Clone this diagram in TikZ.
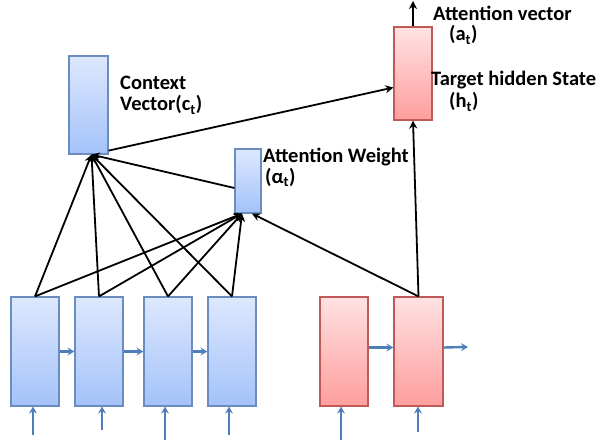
\documentclass[tikz,border=0pt]{standalone}
\usepackage{fontspec}
\setmainfont{Carlito}
\usetikzlibrary{arrows.meta}
\definecolor{bluetop}{HTML}{DDE8FD}
\definecolor{bluebot}{HTML}{A4C2FA}
\definecolor{blueedge}{HTML}{6A8CBE}
\definecolor{redtop}{HTML}{FFE2E2}
\definecolor{redbot}{HTML}{FF9E9E}
\definecolor{rededge}{HTML}{BF5A58}
\definecolor{arrowblue}{HTML}{4F7FBA}
\begin{document}
\begin{tikzpicture}[x=1pt,y=-1pt,
 bbox/.style={draw=blueedge, line width=1.2pt, top color=bluetop, bottom color=bluebot, inner sep=0pt},
 rbox/.style={draw=rededge, line width=1.2pt, top color=redtop, bottom color=redbot, inner sep=0pt},
 blk/.style={draw=black, line width=1.8pt, -{Stealth[length=8pt,width=8pt,inset=2.5pt]}},
 bla/.style={draw=arrowblue, line width=2.4pt, -{Stealth[length=7pt,width=8pt,inset=2.5pt]}},
 lbl/.style={font=\bfseries\fontsize{20.5}{23}\selectfont, anchor=west, inner sep=0pt}]
\useasboundingbox (0,0) rectangle (602,444);
% encoder
\node[bbox, minimum width=48pt, minimum height=109pt] (e1) at (35,351.5) {};
\node[bbox, minimum width=48pt, minimum height=109pt] (e2) at (99,351.5) {};
\node[bbox, minimum width=48pt, minimum height=109pt] (e3) at (168,351.5) {};
\node[bbox, minimum width=48pt, minimum height=109pt] (e4) at (232,351.5) {};
% decoder
\node[rbox, minimum width=48pt, minimum height=109pt] (d1) at (344,351.5) {};
\node[rbox, minimum width=49pt, minimum height=109pt] (d2) at (418.5,351.5) {};
% target, context, attention
\node[rbox, minimum width=38pt, minimum height=93pt] (t) at (413,73.5) {};
\node[bbox, minimum width=39pt, minimum height=98pt] (c) at (88.5,105) {};
\node[bbox, minimum width=26pt, minimum height=64pt] (a) at (248,181) {};
% free ends
\coordinate (out) at (413,1);
\coordinate (dout) at (468,347);
\coordinate (in1) at (33,435);
\coordinate (in2) at (102,430);
\coordinate (in3) at (165,440);
\coordinate (in4) at (229,435);
\coordinate (in5) at (341,440);
\coordinate (in6) at (418,432);
% blue arrows
\draw[bla] (e1.east) -- (e2.west);
\draw[bla] (e2.east) -- (e3.west);
\draw[bla] (e3.east) -- (e4.west);
\draw[bla] ([yshift=4pt]d1.east) -- ([yshift=4pt]d2.west);
\draw[bla] ([yshift=4pt]d2.east) -- (dout);
\draw[bla] (in1) -- (in1 |- e1.south);
\draw[bla] (in2) -- (in2 |- e2.south);
\draw[bla] (in3) -- (in3 |- e3.south);
\draw[bla] (in4) -- (in4 |- e4.south);
\draw[bla] (in5) -- (in5 |- d1.south);
\draw[bla] (in6) -- (in6 |- d2.south);
% black arrows
\foreach \e in {e1,e2,e3,e4} {
  \draw[blk] (\e.north) -- ([xshift=3pt]c.south);
  \draw[blk] (\e.north) -- ([xshift=-6pt]a.south);
}
\draw[blk] (d2.north) -- ([xshift=4pt]a.south);
\draw[blk] (d2.north) -- (t.south);
\draw[blk] ([yshift=-7pt]a.west) -- ([xshift=3pt]c.south);
\draw[blk] ([yshift=4pt]c.south east) -- ([yshift=-14pt]t.west);
\draw[blk] (t.north) -- (out);
% labels
\node[lbl] (l1) at (433,13) {Attention vector};
\node[lbl] (l2) at (449,35) {(a\textsubscript{t})};
\node[lbl] (l3) at (431,80) {Target hidden State};
\node[lbl] (l4) at (449,102) {(h\textsubscript{t})};
\node[lbl] (l5) at (120,83) {Context};
\node[lbl] (l6) at (120,105) {Vector(c\textsubscript{t})};
\node[lbl] (l7) at (263,157) {Attention Weight};
\node[lbl] (l8) at (265,177) {(\symbol{"03B1}\textsubscript{t})};
\end{tikzpicture}
\end{document}
